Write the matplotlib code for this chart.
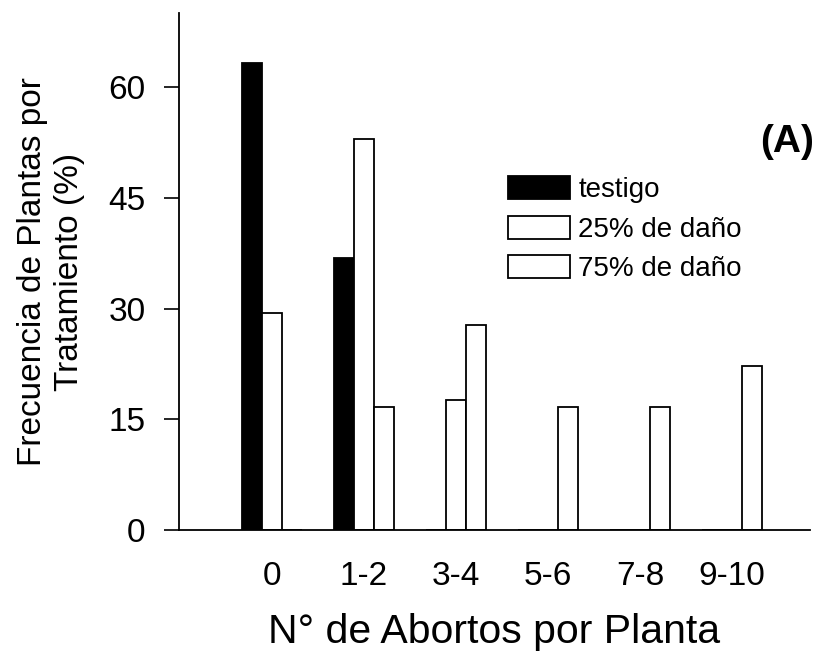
import numpy as np
import matplotlib.pyplot as plt

plt.rcParams["font.family"] = ["Liberation Sans", "DejaVu Sans"]

# abortos por planta (clases) y frecuencia (%) por tratamiento
categorias = ["0", "1-2", "3-4", "5-6", "7-8", "9-10"]
testigo = [63.2, 36.8, 0, 0, 0, 0]
dano_25 = [29.4, 52.9, 17.6, 0, 0, 0]
dano_75 = [0, 16.7, 27.8, 16.7, 16.7, 22.2]
series = ["testigo", "25% de daño", "75% de daño"]
yticks = [0, 15, 30, 45, 60]


def main():
    fig = plt.figure(figsize=(8.2, 6.57), dpi=100)
    ax = fig.add_axes([0.218, 0.193, 0.770, 0.787])

    x = np.arange(len(categorias))
    w = 0.217
    colores = ["black", "white", "white"]
    for k, (vals, lab) in enumerate(zip([testigo, dano_25, dano_75], series)):
        ax.bar(x + (k - 1) * w, vals, width=w, color=colores[k],
               edgecolor="black", linewidth=1.3, label=lab)

    ax.set_xlim(-1.01, 5.85)
    ax.set_ylim(0, 70)
    ax.set_xticks(x)
    ax.set_xticklabels(categorias, fontsize=24)
    ax.set_yticks(yticks)
    ax.tick_params(axis="y", labelsize=24, length=11, width=1.2, pad=13)
    ax.tick_params(axis="x", length=0, pad=22)
    for s in ["top", "right"]:
        ax.spines[s].set_visible(False)
    for s in ["left", "bottom"]:
        ax.spines[s].set_linewidth(1.3)

    ax.set_xlabel("N° de Abortos por Planta", fontsize=29.5, labelpad=15)
    ax.set_ylabel("Frecuencia de Plantas por\nTratamiento (%)", fontsize=24,
                  labelpad=17, linespacing=1.25)

    fig.text(787 / 820, 1 - 142 / 657, "(A)", fontsize=28, fontweight="bold",
             ha="center", va="center")

    ax.legend(loc="upper left", bbox_to_anchor=(508 / 820, 1 - 176 / 657),
              bbox_transform=fig.transFigure, frameon=False, fontsize=20,
              handlelength=2.23, handleheight=0.9, labelspacing=0.45,
              handletextpad=0.3, borderpad=0, borderaxespad=0)

    fig.savefig("out.png", dpi=100)


if __name__ == "__main__":
    main()
